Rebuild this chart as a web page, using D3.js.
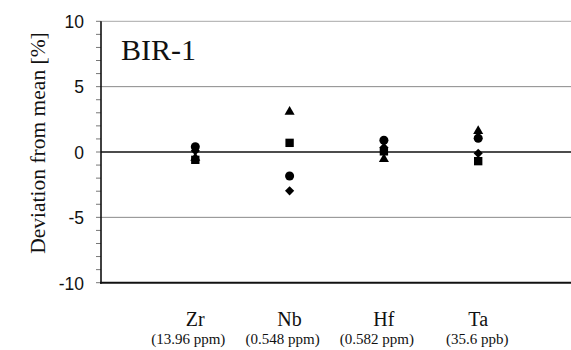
<!DOCTYPE html>
<html><head><meta charset="utf-8">
<script src="https://cdn.jsdelivr.net/npm/d3@7"></script>
<style>body{margin:0;background:#fff}svg{display:block}</style>
</head><body>
<script>
const categories = ["Zr", "Nb", "Hf", "Ta"];
const concentrations = ["(13.96 ppm)", "(0.548 ppm)", "(0.582 ppm)", "(35.6 ppb)"];
const diamondVals  = [0.1, -2.97, 0.35, -0.1];
const squareVals   = [-0.6, 0.7, 0.05, -0.7];
const triangleVals = [-0.45, 3.08, -0.55, 1.6];
const circleVals   = [0.4, -1.84, 0.9, 1.05];
const yTicks = [-10, -5, 0, 5, 10];
const title = "BIR-1";
const yTitle = "Deviation from mean [%]";

const W = 571, H = 350;
const svg = d3.select("body").append("svg").attr("width", W).attr("height", H);
const x = d3.scaleLinear().domain([0, 5]).range([101, 572.5]);
const y = d3.scaleLinear().domain([-10, 10]).range([282.7, 21.3]);

// gridlines
svg.append("g").selectAll("line").data([10, 5, -5]).join("line")
  .attr("x1", 101).attr("x2", W).attr("y1", d => y(d)).attr("y2", d => y(d))
  .attr("stroke", d => d === 10 ? "#a8a8a8" : "#8a8a8a").attr("stroke-width", 1);

// minor ticks
const minor = d3.range(-10, 11, 1);
svg.append("g").selectAll("line").data(minor).join("line")
  .attr("x1", 96).attr("x2", 101).attr("y1", d => y(d)).attr("y2", d => y(d))
  .attr("stroke", "#777").attr("stroke-width", 1);

// y axis labels
const yAxis = d3.axisLeft(y).tickValues(yTicks).tickSize(0).tickPadding(17).tickFormat(d => String(d));
const ga = svg.append("g").attr("transform", "translate(101,0)").call(yAxis);
ga.select(".domain").remove();
ga.selectAll("text").attr("font-family", "Liberation Sans, Arial, sans-serif").attr("font-size", 17.5).attr("fill", "#111").attr("dy", "0.36em");

// zero line
svg.append("line").attr("x1", 101).attr("x2", W).attr("y1", y(0)).attr("y2", y(0))
  .attr("stroke", "#111").attr("stroke-width", 1.6);
// left axis & bottom axis
svg.append("line").attr("x1", 101).attr("x2", 101).attr("y1", y(10)).attr("y2", y(-10)+1)
  .attr("stroke", "#111").attr("stroke-width", 1.6);
svg.append("line").attr("x1", 100).attr("x2", W).attr("y1", y(-10)).attr("y2", y(-10))
  .attr("stroke", "#111").attr("stroke-width", 2);

// title
svg.append("text").attr("x", 121).attr("y", 59.5).text(title)
  .attr("font-family", "Liberation Serif, Times New Roman, serif").attr("font-size", 30).attr("fill", "#111");

// y title
svg.append("text").attr("transform", `translate(45,143) rotate(-90)`).attr("text-anchor", "middle")
  .text(yTitle).attr("font-family", "Liberation Serif, Times New Roman, serif").attr("font-size", 21.5).attr("fill", "#111");

// category labels
const xc = i => x(i + 1);
svg.append("g").selectAll("text").data(categories).join("text")
  .attr("x", (d, i) => xc(i)).attr("y", 326).attr("text-anchor", "middle").text(d => d)
  .attr("font-family", "Liberation Serif, Times New Roman, serif").attr("font-size", 20).attr("fill", "#111");
svg.append("g").selectAll("text").data(concentrations).join("text")
  .attr("x", (d, i) => xc(i) - (i < 3 ? 7 : 1)).attr("y", 344).attr("text-anchor", "middle").text(d => d)
  .attr("font-family", "Liberation Serif, Times New Roman, serif").attr("font-size", 15).attr("fill", "#111");

// markers
const series = [
  {vals: diamondVals, sym: d3.symbolSquare, size: 42, rot: 45},
  {vals: triangleVals, sym: d3.symbolTriangle, size: 44, rot: 0},
  {vals: squareVals, sym: d3.symbolSquare, size: 70, rot: 0},
  {vals: circleVals, sym: d3.symbolCircle, size: 64, rot: 0}
];
series.forEach(s => {
  svg.append("g").selectAll("path").data(s.vals).join("path")
    .attr("d", d3.symbol().type(s.sym).size(s.size))
    .attr("transform", (d, i) => `translate(${xc(i)},${y(d)}) rotate(${s.rot})`)
    .attr("fill", "#000");
});
</script>
</body></html>
